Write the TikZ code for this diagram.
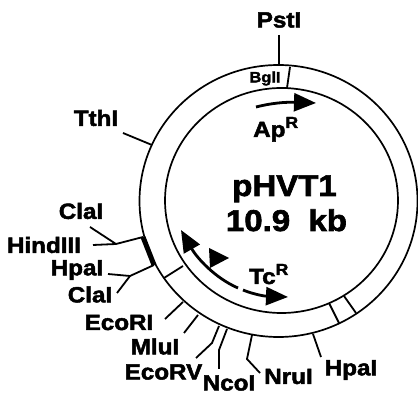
\documentclass[tikz,border=0pt]{standalone}
\usepackage{fontspec}
\setmainfont{Liberation Sans}[BoldFeatures={FakeBold=2.2,FakeStretch=1.1}]
\usetikzlibrary{arrows.meta}
\tikzset{
	site/.style={font=\bfseries\fontsize{22}{22}\selectfont, inner sep=0pt},
	title/.style={font=\bfseries\fontsize{30}{30}\selectfont, inner sep=0pt, anchor=base},
	gene/.style={font=\bfseries\fontsize{22}{22}\selectfont, inner sep=0pt, anchor=base west},
	tick/.style={line width=1.8pt},
	ring/.style={line width=1.7pt},
	generow/.style={line width=2.8pt, -{Triangle[length=22pt, width=18pt]}}
}
\newcommand{\resmark}{\raisebox{9pt}{\fontsize{16}{16}\selectfont R}}
\begin{document}
\begin{tikzpicture}[x=1pt, y=-1pt]
	\useasboundingbox (0, 0) rectangle (418, 395);
	\draw[ring] (278.5, 201) ellipse (139 and 136);
	\draw[ring] (281.5, 200.5) ellipse (116.5 and 112.5);

	\draw (279, 20) 	node[site] 	(pst) 		{PstI};
	\draw (265, 78.5) 	node[site, font=\bfseries\fontsize{15}{15}\selectfont] 	(bgl) 	{BglI};
	\draw (96, 118) 	node[site] 	(tth) 		{TthI};
	\draw (81, 211) 	node[site] 	(cla_a) 	{ClaI};
	\draw (44, 245) 	node[site] 	(hind) 		{HindIII};
	\draw (77, 270) 	node[site] 	(hpa_a) 	{HpaI};
	\draw (90, 294.5) 	node[site] 	(cla_b) 	{ClaI};
	\draw (119, 322.5) 	node[site] 	(eco_a) 	{EcoRI};
	\draw (155, 346.5) 	node[site] 	(mlu) 		{MluI};
	\draw (163.5, 372) 	node[site] 	(eco_b) 	{EcoRV};
	\draw (229, 383) 	node[site] 	(nco) 		{NcoI};
	\draw (288.5, 376.5) 	node[site] 	(nru) 		{NruI};
	\draw (351, 370) 	node[site] 	(hpa_b) 	{HpaI};

	\draw (284.5, 196) 	node[title] 	(name) 	{pHVT1};
	\draw (286.5, 231) 	node[title] 	(size) 	{10.9\ \ kb};
	\draw (253, 137) 	node[gene] 	(ap) 	{Ap\resmark};
	\draw (249, 284) 	node[gene] 	(tc) 	{Tc\resmark};

	\coordinate (pst_a) at (279, 35);	\coordinate (pst_b) at (279, 65);
	\coordinate (bgl_a) at (290, 67);	\coordinate (bgl_b) at (287, 88);
	\coordinate (tth_a) at (123, 133);	\coordinate (tth_b) at (152, 145);
	\coordinate (cla_c) at (90, 227);	\coordinate (hind_a) at (93, 245);
	\coordinate (hind_b) at (116, 244);	\coordinate (hind_c) at (143, 237);
	\coordinate (hpa_c) at (108, 274);	\coordinate (hpa_d) at (130, 276);
	\coordinate (hpa_e) at (154, 265);	\coordinate (cla_d) at (117, 293);
	\coordinate (gap_a) at (164, 278);	\coordinate (gap_b) at (183, 266);
	\coordinate (eco_c) at (165, 319);	\coordinate (eco_d) at (183, 302);
	\coordinate (mlu_a) at (184, 333);	\coordinate (mlu_b) at (198, 315);
	\coordinate (eco_e) at (196, 358);	\coordinate (eco_f) at (212, 343);
	\coordinate (eco_g) at (219, 326);	\coordinate (nco_a) at (219, 369);
	\coordinate (nco_b) at (219, 350);	\coordinate (nco_c) at (227, 329);
	\coordinate (nru_a) at (260, 373);	\coordinate (nru_b) at (247, 359);
	\coordinate (nru_c) at (252, 335);	\coordinate (hpa_f) at (321, 357);
	\coordinate (hpa_g) at (313, 334);	\coordinate (gap_c) at (329, 303);
	\coordinate (gap_d) at (339, 323);	\coordinate (gap_e) at (344, 296);
	\coordinate (gap_f) at (356, 313);

	\draw[tick] (pst_a) -- (pst_b);
	\draw[tick] (bgl_a) -- (bgl_b);
	\draw[tick] (tth_a) -- (tth_b);
	\draw[tick] (cla_c) -- (hind_b) -- (hind_c);
	\draw[tick] (hind_a) -- (hind_b);
	\draw[tick] (hpa_c) -- (hpa_d) -- (hpa_e);
	\draw[tick] (cla_d) -- (hpa_d);
	\draw[line width=5pt] (hind_c) -- (hpa_e);
	\draw[tick] (gap_a) -- (gap_b);
	\draw[tick] (eco_c) -- (eco_d);
	\draw[tick] (mlu_a) -- (mlu_b);
	\draw[tick] (eco_e) -- (eco_f) -- (eco_g);
	\draw[tick] (nco_a) -- (nco_b) -- (nco_c);
	\draw[tick] (nru_a) -- (nru_b) -- (nru_c);
	\draw[tick] (hpa_f) -- (hpa_g);
	\draw[tick] (gap_c) -- (gap_d);
	\draw[tick] (gap_e) -- (gap_f);

	\coordinate (ap_a) at (256, 107);	\coordinate (ap_b) at (316, 103);
	\coordinate (tc_a) at (238, 288);	\coordinate (tc_b) at (181, 230);
	\coordinate (tc_c) at (243, 290);	\coordinate (tc_d) at (288, 297);
	\draw[generow] (ap_a) .. controls (272, 103) and (285, 102) .. (ap_b);
	\draw[generow] (tc_a) .. controls (215, 278) and (197, 258) .. (tc_b);
	\draw[generow] (tc_c) .. controls (250, 293) and (262, 296) .. (tc_d);
	\fill (209, 248) -- (229, 258) -- (210, 268) -- cycle;
\end{tikzpicture}
\end{document}
